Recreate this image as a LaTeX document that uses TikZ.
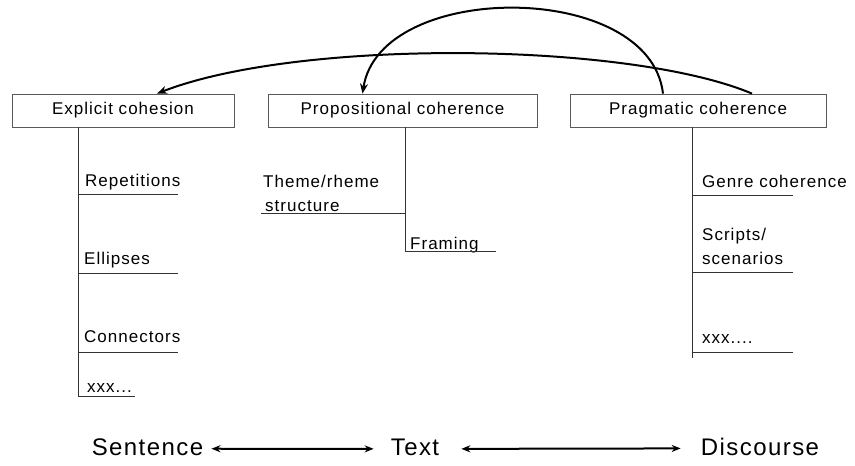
\documentclass[tikz,border=0pt]{standalone}
\usepackage{fontspec}
\setmainfont{Liberation Sans}[LetterSpace=6]
\usetikzlibrary{arrows.meta,positioning}

\begin{document}
\begin{tikzpicture}[
    x=1pt,
    y=-1pt,
    levelbox/.style={
        rectangle,
        draw=black!65,
        line width=0.8pt,
        minimum height=33pt,
        inner sep=0pt,
        font=\fontsize{17}{20}\selectfont
    },
    branch/.style={
        anchor=base west,
        inner sep=0pt,
        align=left,
        font=\fontsize{17}{24}\selectfont
    },
    axislabel/.style={
        anchor=base,
        inner sep=0pt,
        font=\fontsize{24}{28}\selectfont
    },
    trunkline/.style={
        draw=black!80,
        line width=0.9pt
    },
    link/.style={
        draw,
        -{Stealth[length=10pt,width=8pt]},
        line width=2pt
    },
    axisarrow/.style={
        draw,
        {Stealth[length=9pt,width=7pt]}-{Stealth[length=9pt,width=7pt]},
        line width=2pt
    }
]
\useasboundingbox (0,0) rectangle (855,466);

% Nodes
\node [levelbox, minimum width=222pt] (explicit) at (123,110.5) {Explicit cohesion};
\node [levelbox, minimum width=269pt] (propositional) at (402.5,110.5) {Propositional coherence};
\node [levelbox, minimum width=256pt] (pragmatic) at (698,110.5) {Pragmatic coherence};

\node [branch] (rep) at (85,186) {Repetitions};
\node [branch] (ell) at (84,264) {Ellipses};
\node [branch] (con) at (84,342) {Connectors};
\node [branch] (exx) at (87,392) {xxx...};

\node [branch] (theme) at (263,211) {Theme/rheme\\\hspace{2pt}structure};
\node [branch] (framing) at (410,249) {Framing};

\node [branch] (genre) at (702,187) {Genre coherence};
\node [branch] (scripts) at (702,264) {Scripts/\\scenarios};
\node [branch] (pxx) at (702,343) {xxx....};

\node [axislabel] (sentence) at (147.5,455) {Sentence};
\node [axislabel] (text) at (415,455) {Text};
\node [axislabel] (discourse) at (760,455) {Discourse};

% Trunk ends and branch ends
\coordinate (ecend) at (78,396);
\coordinate (rep end) at (178,194);
\coordinate (ell end) at (178,273);
\coordinate (con end) at (178,352);
\coordinate (exx end) at (135,396);

\coordinate (pcend) at (405,251);
\coordinate (theme end) at (261,213);
\coordinate (framing end) at (496,251);

\coordinate (gcend) at (692,358);
\coordinate (genre end) at (793,195);
\coordinate (scripts end) at (793,272);
\coordinate (pxx end) at (793,352);

% Trees
\path [trunkline] (explicit.south -| ecend) -- (ecend);
\path [trunkline] (rep end -| ecend) -- (rep end);
\path [trunkline] (ell end -| ecend) -- (ell end);
\path [trunkline] (con end -| ecend) -- (con end);
\path [trunkline] (ecend) -- (exx end);

\path [trunkline] (propositional.south -| pcend) -- (pcend);
\path [trunkline] (theme end -| pcend) -- (theme end);
\path [trunkline] (pcend) -- (framing end);

\path [trunkline] (pragmatic.south -| gcend) -- (gcend);
\path [trunkline] (genre end -| gcend) -- (genre end);
\path [trunkline] (scripts end -| gcend) -- (scripts end);
\path [trunkline] (pxx end -| gcend) -- (pxx end);

% Edges
\path [link] ([xshift=54pt]pragmatic.north) .. controls (630,42) and (300,38) .. ([xshift=34pt]explicit.north);
\path [link] ([xshift=-35pt]pragmatic.north) .. controls (650,-20) and (380,-20) .. ([xshift=-40pt]propositional.north);

\path [axisarrow] ([xshift=8pt,yshift=-2pt]sentence.east) -- ([xshift=-17pt,yshift=-2pt]text.west);
\path [axisarrow] ([xshift=22pt,yshift=-2pt]text.east) -- ([xshift=-20pt,yshift=-2pt]discourse.west);

\end{tikzpicture}
\end{document}
